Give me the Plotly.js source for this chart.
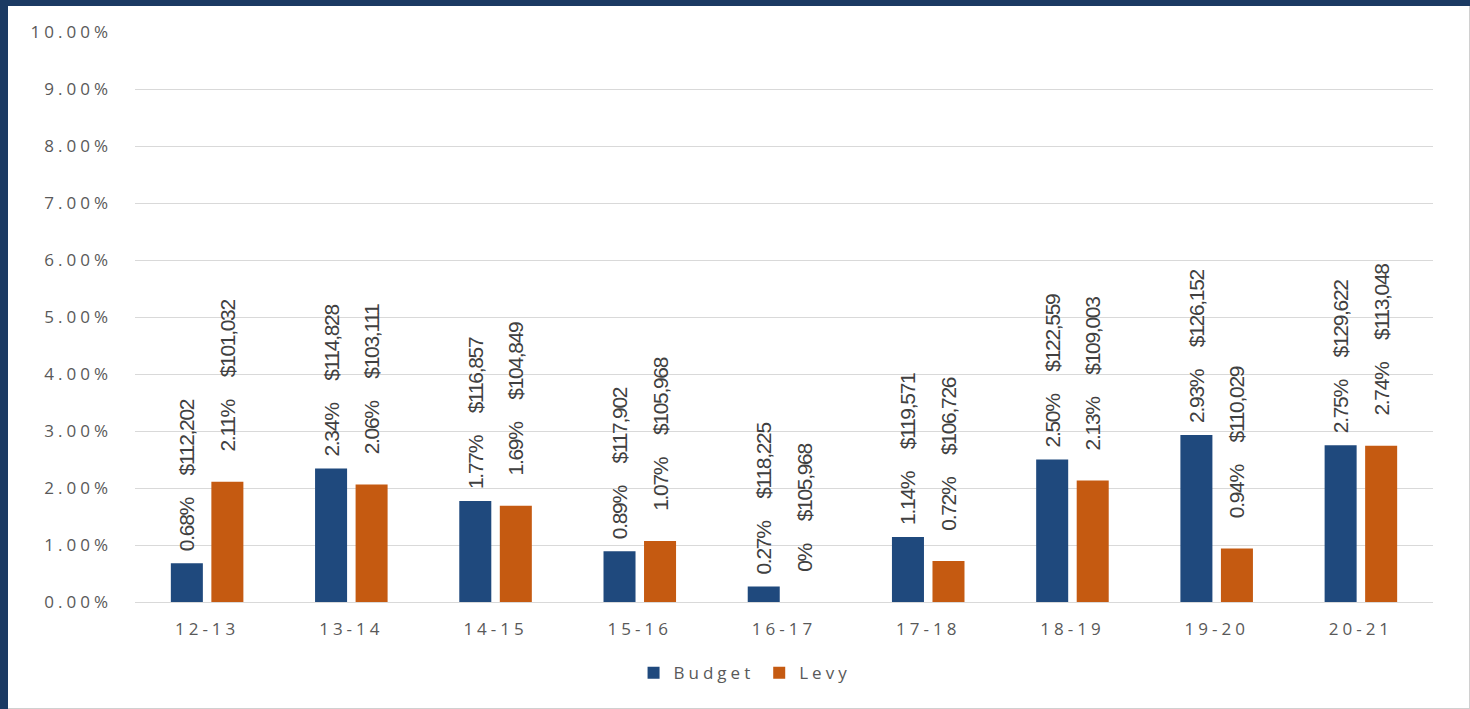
<!DOCTYPE html>
<html>
<head>
<meta charset="utf-8">
<script src="https://cdn.plot.ly/plotly-3.0.1.min.js"></script>
<style>
  html, body { margin: 0; padding: 0; width: 1470px; height: 709px; background: #1b3a63; overflow: hidden; }
  #chart { position: absolute; left: 8px; top: 6px; width: 1461px; height: 702px; background: #ffffff; border-right: 1px solid #d0d0d0; border-bottom: 1px solid #d0d0d0; }
  .xtick text, .ytick text, .legendtext { letter-spacing: 4px; }
  text.bartext { letter-spacing: -1.3px; }
</style>
</head>
<body>
<div id="chart"></div>
<script>
const categories = ["12-13", "13-14", "14-15", "15-16", "16-17", "17-18", "18-19", "19-20", "20-21"];
const budgetPct = [0.68, 2.34, 1.77, 0.89, 0.27, 1.14, 2.50, 2.93, 2.75];
const levyPct   = [2.11, 2.06, 1.69, 1.07, 0.00, 0.72, 2.13, 0.94, 2.74];
const budgetAmount = [112202, 114828, 116857, 117902, 118225, 119571, 122559, 126152, 129622];
const levyAmount   = [101032, 103111, 104849, 105968, 105968, 106726, 109003, 110029, 113048];
const yTickVals = [0, 1, 2, 3, 4, 5, 6, 7, 8, 9, 10];
const yTickText = ["0.00%", "1.00%", "2.00%", "3.00%", "4.00%", "5.00%", "6.00%", "7.00%", "8.00%", "9.00%", "10.00%"];

const NB = '\u00a0';
function pctLabel(v) { return v === 0 ? '0%' : v.toFixed(2) + '%'; }
function moneyLabel(v) { return '$' + v.toLocaleString('en-US'); }
function makeLabels(pcts, amounts, lead) {
  return pcts.map((p, i) => NB.repeat(lead) + pctLabel(p) + NB.repeat(5) + moneyLabel(amounts[i]));
}

const labelFont = { family: 'Liberation Sans, Arial, sans-serif', size: 21, color: '#404040' };

const traces = [
  {
    type: 'bar', name: 'Budget', x: categories, y: budgetPct,
    marker: { color: '#1f497d' },
    text: makeLabels(budgetPct, budgetAmount, 2),
    textposition: 'outside', textangle: -90, constraintext: 'none', cliponaxis: false,
    textfont: labelFont, hoverinfo: 'x+y'
  },
  {
    type: 'bar', name: 'Levy', x: categories, y: levyPct,
    marker: { color: '#c55a11' },
    text: makeLabels(levyPct, levyAmount, 6),
    textposition: 'outside', textangle: -90, constraintext: 'none', cliponaxis: false,
    textfont: labelFont, hoverinfo: 'x+y'
  }
];

const tickFont = { family: 'Open Sans, sans-serif', size: 17, color: '#595959' };

const layout = {
  width: 1461, height: 702,
  margin: { l: 127, r: 36, t: 26, b: 106 },
  paper_bgcolor: '#ffffff', plot_bgcolor: '#ffffff',
  barmode: 'group', bargap: 0.438, bargroupgap: 0.21,
  showlegend: true,
  legend: {
    orientation: 'h', x: 0.47, xanchor: 'center', y: -0.125, yanchor: 'middle',
    font: { family: 'Open Sans, sans-serif', size: 17, color: '#595959' },
    itemwidth: 30, traceorder: 'normal'
  },
  xaxis: {
    type: 'category', tickfont: tickFont, showgrid: false, zeroline: false,
    showline: false, ticks: '', ticklabelstandoff: 15
  },
  yaxis: {
    range: [0, 10], tickmode: 'array', tickvals: yTickVals, ticktext: yTickText,
    tickfont: tickFont, showgrid: true, gridcolor: '#d9d9d9', gridwidth: 1,
    zeroline: true, zerolinecolor: '#d9d9d9', zerolinewidth: 1,
    showline: false, ticks: '', ticklabelstandoff: 22, fixedrange: true
  },
  font: { family: 'Open Sans, sans-serif' }
};

Plotly.newPlot('chart', traces, layout, { displayModeBar: false, staticPlot: true });
</script>
</body>
</html>
